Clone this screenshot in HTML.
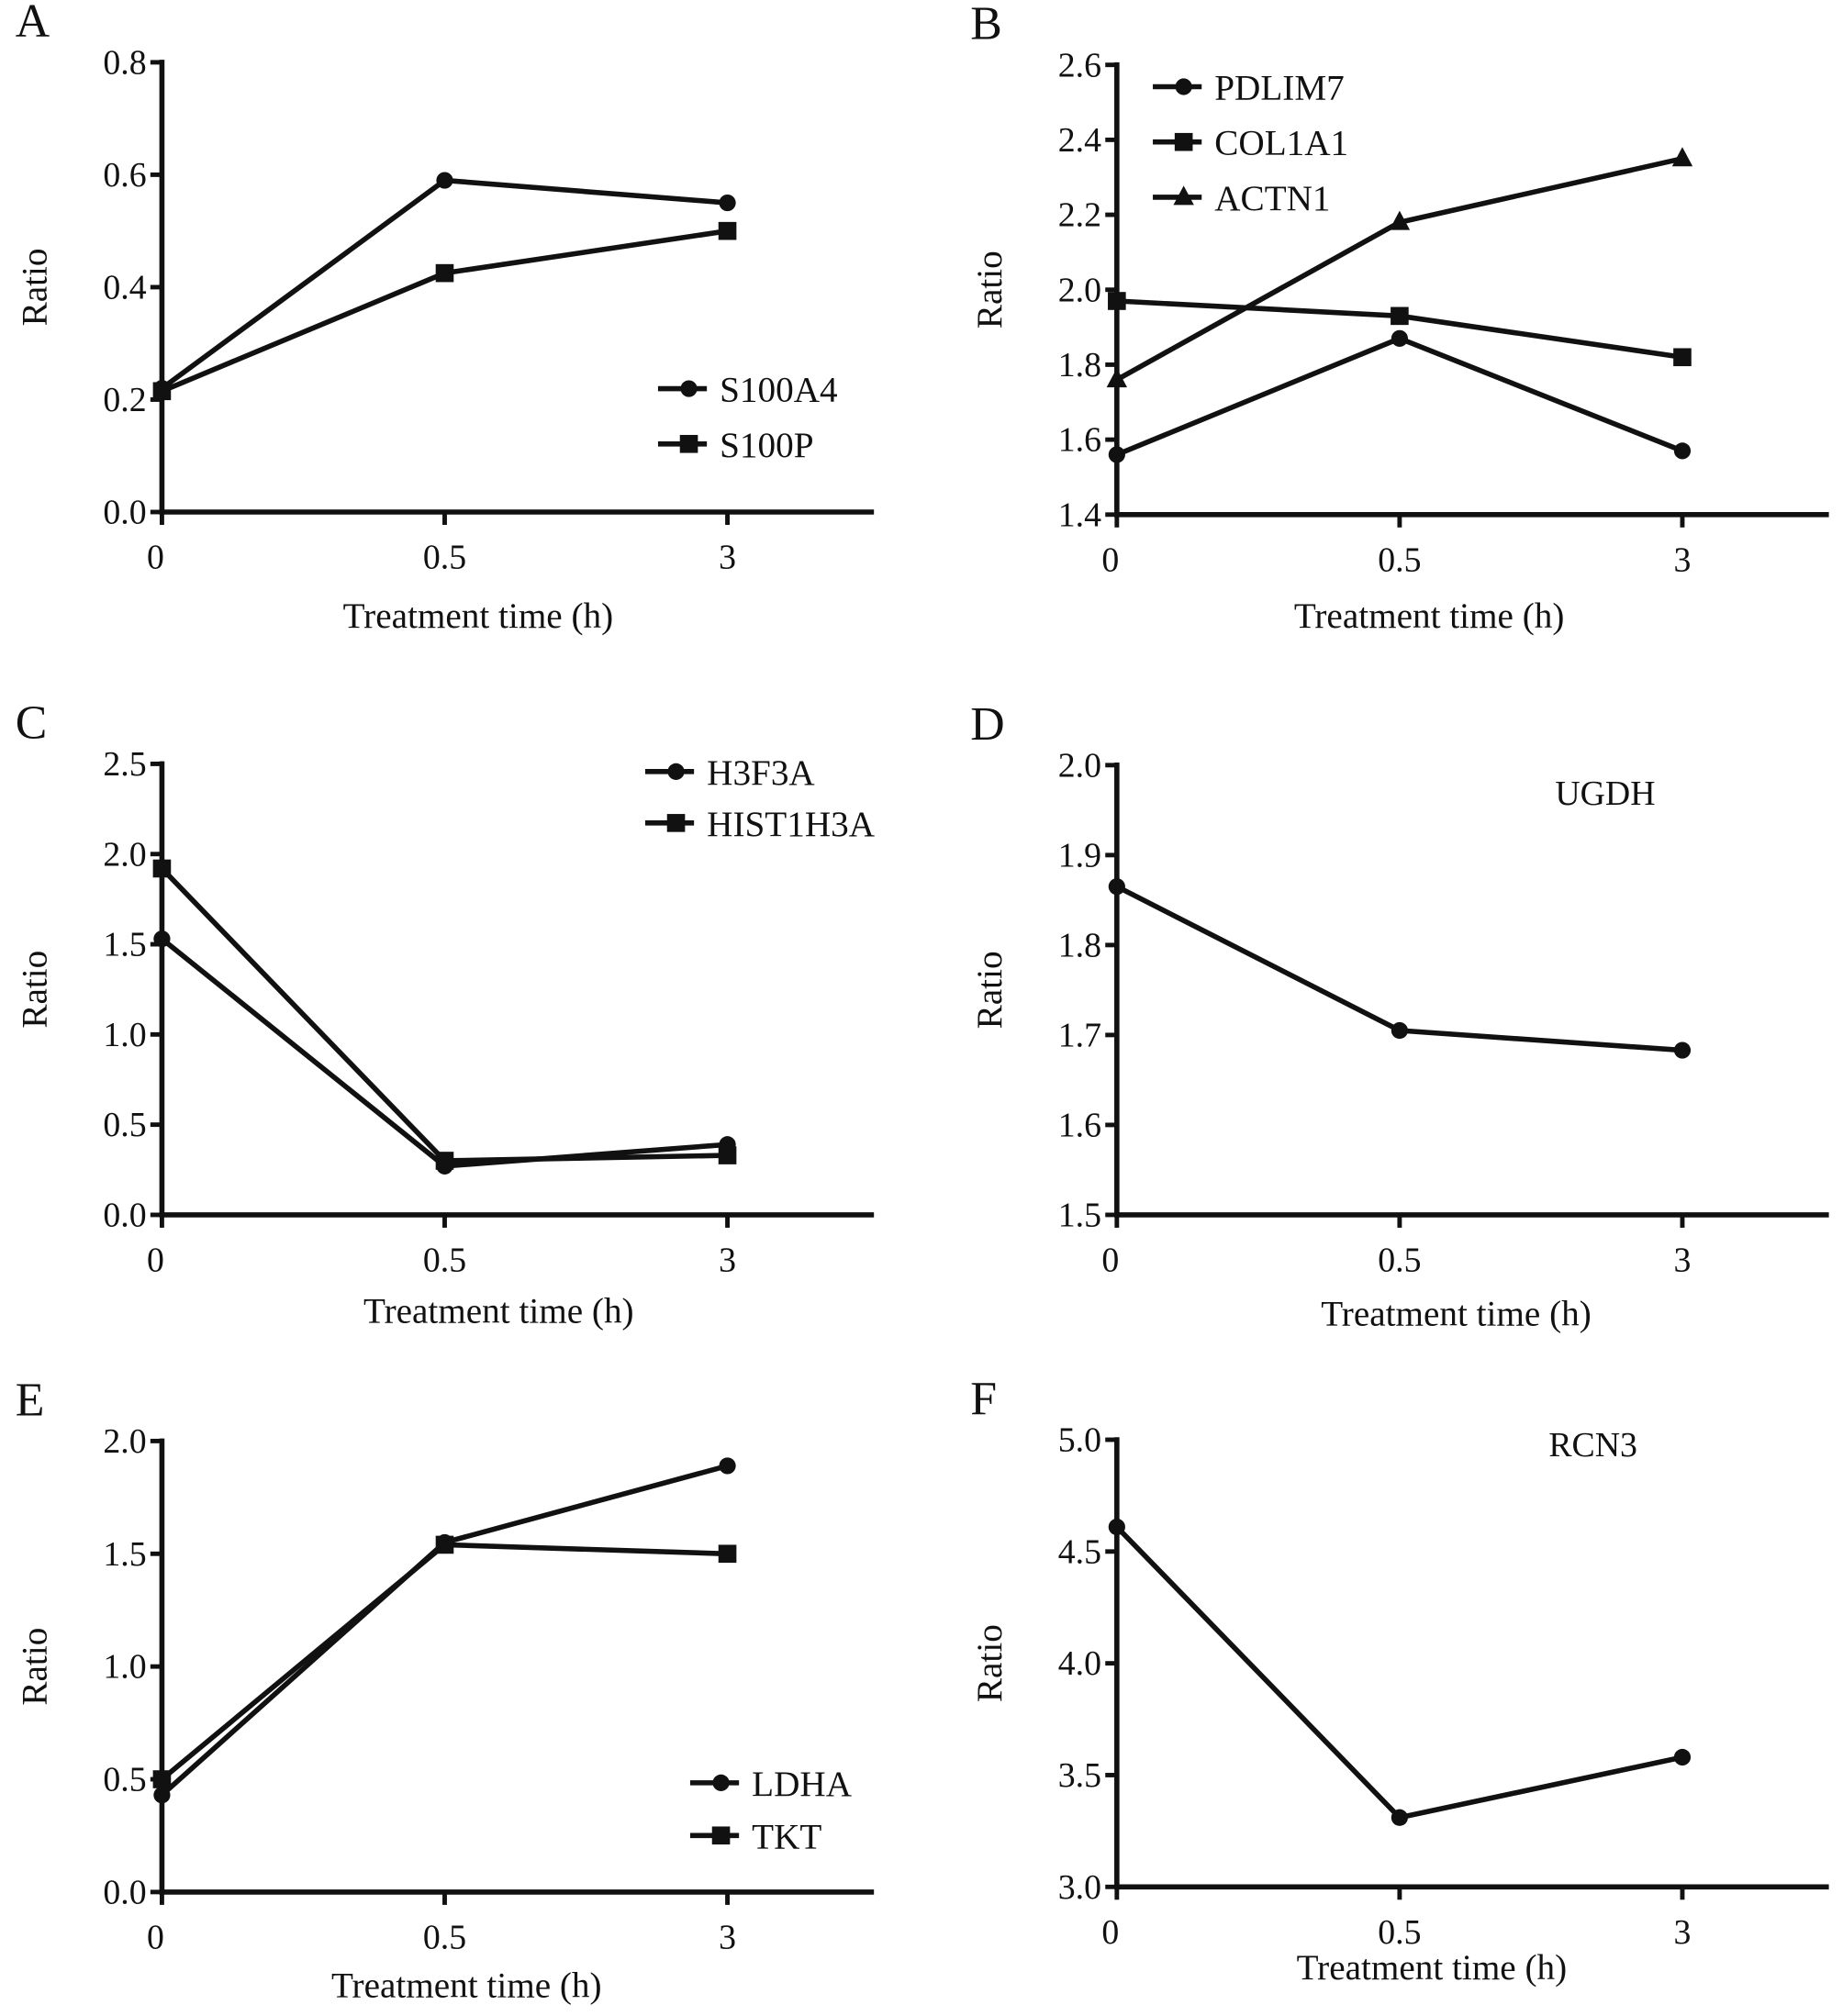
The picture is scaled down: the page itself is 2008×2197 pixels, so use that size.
<!DOCTYPE html>
<html><head><meta charset="utf-8"><style>
html,body{margin:0;padding:0;background:#fff;}
svg{display:block;}
text{font-family:"Liberation Serif",serif;fill:#111;}
</style></head><body>
<svg id="fig" width="2008" height="2197" viewBox="0 0 1434 1568" xmlns="http://www.w3.org/2000/svg"></svg>
<script>
const xCategories = ["0","0.5","3"];
// Panel A
const aTicks = [0.0,0.2,0.4,0.6,0.8];
const aS100A4 = [0.22,0.59,0.55];
const aS100P = [0.215,0.425,0.50];
// Panel B
const bTicks = [1.4,1.6,1.8,2.0,2.2,2.4,2.6];
const bPDLIM7 = [1.56,1.87,1.57];
const bCOL1A1 = [1.97,1.93,1.82];
const bACTN1 = [1.76,2.18,2.35];
// Panel C
const cTicks = [0.0,0.5,1.0,1.5,2.0,2.5];
const cH3F3A = [1.53,0.27,0.39];
const cHIST1H3A = [1.92,0.30,0.33];
// Panel D
const dTicks = [1.5,1.6,1.7,1.8,1.9,2.0];
const dUGDH = [1.865,1.705,1.683];
// Panel E
const eTicks = [0.0,0.5,1.0,1.5,2.0];
const eLDHA = [0.43,1.55,1.89];
const eTKT = [0.50,1.54,1.50];
// Panel F
const fTicks = [3.0,3.5,4.0,4.5,5.0];
const fRCN3 = [4.61,3.31,3.58];

const NS="http://www.w3.org/2000/svg";
const svg=document.getElementById('fig');
function mk(tag,attrs,parent){const e=document.createElementNS(NS,tag);for(const k in attrs)e.setAttribute(k,attrs[k]);(parent||svg).appendChild(e);return e;}

function marker(g,shape,x,y){
  let m;
  if(shape==='circle'){m=mk('circle',{cx:x,cy:y,r:6.5,fill:'#111'},g);}
  else if(shape==='square'){m=mk('rect',{x:x-7,y:y-7,width:14,height:14,fill:'#111'},g);}
  else {m=mk('polygon',{points:`${x},${y-9} ${x-8},${y+6} ${x+8},${y+6}`,fill:'#111'},g);}
  return m;
}

function panel(p){
  const g=mk('g',{});
  
  
  const tmin=p.ticks[0],tmax=p.ticks[p.ticks.length-1];
  const yS=v=>p.yBot-(v-tmin)/(tmax-tmin)*(p.yBot-p.yTop);
  const xS=i=>p.ax+i*220;
  const lt=mk('text',{x:p.ax-114,y:p.yTop-20,'font-size':37},g);lt.textContent=p.id;
  
  const ya=mk('line',{x1:p.ax,y1:p.yTop-2,x2:p.ax,y2:p.yBot+2,stroke:'#111','stroke-width':4},g);
  
  const xa=mk('line',{x1:p.ax-2,y1:p.yBot,x2:p.ax+554,y2:p.yBot,stroke:'#111','stroke-width':4},g);
  
  p.ticks.forEach(t=>{
    const y=yS(t);
    mk('line',{x1:p.ax-9,y1:y,x2:p.ax,y2:y,stroke:'#111','stroke-width':3.5},g);
    const tx=mk('text',{x:p.ax-12,y:y+9,'font-size':27,'text-anchor':'end'},g);
    tx.textContent=t.toFixed(1);
    
  });
  xCategories.forEach((c,i)=>{
    const x=xS(i);
    mk('line',{x1:x,y1:p.yBot,x2:x,y2:p.yBot+10,stroke:'#111','stroke-width':3.5},g);
    const tx=mk('text',{x:x-(i==0?5:0),y:p.yBot+(p.xlOff||44),'font-size':27,'text-anchor':'middle'},g);
    tx.textContent=c;
    
  });
  const xt=mk('text',{x:p.ax+p.xtDx,y:p.yBot+p.xtDy,'font-size':28,'text-anchor':'middle'},g);
  xt.textContent='Treatment time (h)';
  
  const ry=(p.yTop+p.yBot)/2;
  const yt=mk('text',{x:0,y:0,'font-size':28,'text-anchor':'middle',transform:`translate(${p.ax-90},${ry}) rotate(-90)`},g);
  yt.textContent='Ratio';
  
  p.series.forEach(s=>{
    const sg=mk('g',{},g);
    
    
    const pts=s.vals.map((v,i)=>xS(i)+','+yS(v)).join(' ');
    mk('polyline',{points:pts,fill:'none',stroke:'#111','stroke-width':4,'stroke-linejoin':'round'},sg);
    s.vals.forEach((v,i)=>{
      const m=marker(sg,s.shape,xS(i),yS(v));
      
      
    });
  });
  if(p.legend){
    p.series.forEach((s,i)=>{
      const lg=mk('g',{},g);
      
      
      const y=p.legend.y+i*p.legend.dy;
      mk('line',{x1:p.legend.x,y1:y,x2:p.legend.x+38,y2:y,stroke:'#111','stroke-width':4},lg);
      marker(lg,s.shape,p.legend.x+24,y);
      const tx=mk('text',{x:p.legend.x+48,y:y+10,'font-size':28},lg);
      tx.textContent=s.name;
    });
  }
  if(p.label){
    const tx=mk('text',{x:p.label.x,y:p.label.y,'font-size':27},g);
    tx.textContent=p.label.t;
    
  }
}

panel({id:'A',ax:126,yTop:48,yBot:398,ticks:aTicks,xtDx:246,xtDy:90,
  series:[{name:'S100A4',vals:aS100A4,shape:'circle'},{name:'S100P',vals:aS100P,shape:'square'}],
  legend:{x:512,y:302,dy:43}});
panel({id:'B',ax:869,yTop:50,yBot:400,ticks:bTicks,xtDx:243,xtDy:88,
  series:[{name:'PDLIM7',vals:bPDLIM7,shape:'circle'},{name:'COL1A1',vals:bCOL1A1,shape:'square'},{name:'ACTN1',vals:bACTN1,shape:'triangle'}],
  legend:{x:897,y:67,dy:43}});
panel({id:'C',ax:126,yTop:594,yBot:945,ticks:cTicks,xtDx:262,xtDy:84,
  series:[{name:'H3F3A',vals:cH3F3A,shape:'circle'},{name:'HIST1H3A',vals:cHIST1H3A,shape:'square'}],
  legend:{x:502,y:600,dy:40}});
panel({id:'D',ax:869,yTop:595,yBot:945,ticks:dTicks,xtDx:264,xtDy:86,
  series:[{name:'UGDH',vals:dUGDH,shape:'circle'}],label:{x:1210,y:626,t:'UGDH'}});
panel({id:'E',ax:126,yTop:1121,yBot:1472,ticks:eTicks,xtDx:237,xtDy:82,
  series:[{name:'LDHA',vals:eLDHA,shape:'circle'},{name:'TKT',vals:eTKT,shape:'square'}],
  legend:{x:537,y:1387,dy:41}});
panel({id:'F',ax:869,yTop:1120,yBot:1468,ticks:fTicks,xtDx:245,xtDy:72,
  series:[{name:'RCN3',vals:fRCN3,shape:'circle'}],label:{x:1205,y:1133,t:'RCN3'}});
</script>
</body></html>
